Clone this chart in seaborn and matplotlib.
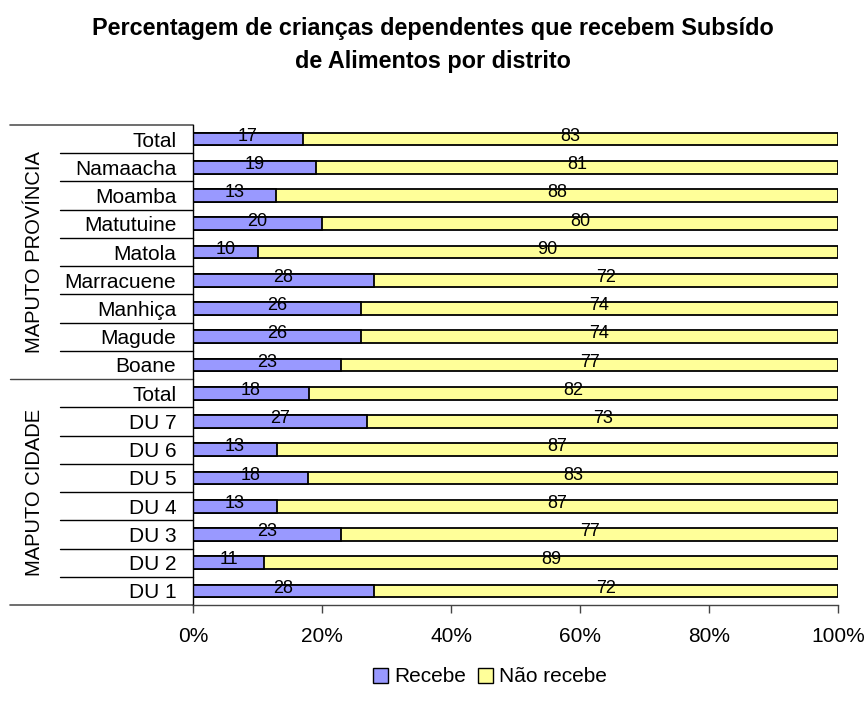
import matplotlib
matplotlib.use('Agg')
import matplotlib.pyplot as plt
import seaborn as sns
import pandas as pd
import numpy as np
from matplotlib.patches import Patch

# dados (de cima para baixo)
grupos = ['MAPUTO PROVÍNCIA'] * 9 + ['MAPUTO CIDADE'] * 8
categorias = ['Total', 'Namaacha', 'Moamba', 'Matutuine', 'Matola', 'Marracuene',
              'Manhiça', 'Magude', 'Boane',
              'Total', 'DU 7', 'DU 6', 'DU 5', 'DU 4', 'DU 3', 'DU 2', 'DU 1']
recebe = [17, 19, 13, 20, 10, 28, 26, 26, 23, 18, 27, 13, 18, 13, 23, 11, 28]
nao_recebe = [83, 81, 88, 80, 90, 72, 74, 74, 77, 82, 73, 87, 83, 87, 77, 89, 72]

cor_recebe = '#9999FF'
cor_nao = '#FFFF99'

sns.set_style('white')
plt.rcParams['font.family'] = ['Liberation Sans', 'DejaVu Sans']
plt.rcParams['text.color'] = 'black'
plt.rcParams['xtick.color'] = 'black'
plt.rcParams['ytick.color'] = 'black'

df = pd.DataFrame({'grupo': grupos, 'cat': categorias,
                   'recebe': recebe, 'nao': nao_recebe})
df['id'] = [f'{g}|{c}' for g, c in zip(df['grupo'], df['cat'])]
df['total'] = df['recebe'] + df['nao']
df['pct_rec'] = df['recebe'] / df['total'] * 100
df['pct_tot'] = 100.0

fig = plt.figure(figsize=(8.65, 7.15), dpi=100)
ax = fig.add_axes([193 / 865, 1 - 605 / 715, 645 / 865, 480 / 715])

sns.barplot(data=df, y='id', x='pct_tot', order=df['id'], color=cor_nao,
            edgecolor='black', linewidth=1.3, width=0.45, ax=ax, saturation=1)
sns.barplot(data=df, y='id', x='pct_rec', order=df['id'], color=cor_recebe,
            edgecolor='black', linewidth=1.3, width=0.45, ax=ax, saturation=1)

# rótulos de dados
for i, row in df.iterrows():
    ax.text(row['pct_rec'] / 2, i - 0.1, str(row['recebe']), ha='center', va='center',
            fontsize=13, color='black')
    ax.text(row['pct_rec'] + (100 - row['pct_rec']) / 2, i - 0.1, str(row['nao']),
            ha='center', va='center', fontsize=13, color='black')

n = len(df)
ax.set_xlim(0, 100)
ax.set_ylim(n - 0.5, -0.5)
ax.set_xticks([0, 20, 40, 60, 80, 100])
ax.set_xticklabels(['0%', '20%', '40%', '60%', '80%', '100%'], fontsize=15)
ax.set_yticks(range(n))
ax.set_yticklabels(categorias, fontsize=15)
ax.set_xlabel('')
ax.set_ylabel('')
ax.tick_params(axis='y', length=0, pad=12)
ax.tick_params(axis='x', bottom=True, length=6, direction='out', pad=10,
               color='#444444', width=1)

for s in ['top', 'right']:
    ax.spines[s].set_visible(False)
ax.spines['left'].set_color('black')
ax.spines['left'].set_linewidth(1)
ax.spines['bottom'].set_color('#444444')
ax.spines['bottom'].set_linewidth(1)

# linhas de separação das categorias
trans = ax.get_yaxis_transform()
x_in = -133 / 645
x_out = -183 / 645
for b in np.arange(0.5, n - 0.5, 1.0):
    if b == 8.5:
        ax.plot([x_out, 0], [b, b], transform=trans, color='#444444', lw=1, clip_on=False)
    else:
        ax.plot([x_in, 0], [b, b], transform=trans, color='black', lw=1, clip_on=False)
ax.plot([x_out, 0], [-0.5, -0.5], transform=trans, color='#555555', lw=1.2, clip_on=False)
ax.plot([x_out, 0], [n - 0.5, n - 0.5], transform=trans, color='#555555', lw=1.2, clip_on=False)

# rótulos dos grupos
ax.text(-158 / 645, 4, 'MAPUTO PROVÍNCIA', transform=trans, rotation=90,
        ha='center', va='center', fontsize=14.5)
ax.text(-158 / 645, 12.5, 'MAPUTO CIDADE', transform=trans, rotation=90,
        ha='center', va='center', fontsize=14.5)

fig.text(0.5, 1 - 45 / 715,
         'Percentagem de crianças dependentes que recebem Subsído\nde Alimentos por distrito',
         ha='center', va='center', fontsize=16.8, fontweight='bold', linespacing=1.55)

handles = [Patch(facecolor=cor_recebe, edgecolor='black', label='Recebe'),
           Patch(facecolor=cor_nao, edgecolor='black', label='Não recebe')]
fig.legend(handles=handles, loc='center', bbox_to_anchor=(490 / 865, 1 - 677 / 715),
           ncol=2, frameon=False, fontsize=15, handlelength=0.7, handleheight=0.7,
           handletextpad=0.3, columnspacing=0.6)

fig.savefig('out.png', dpi=100, facecolor='white')
